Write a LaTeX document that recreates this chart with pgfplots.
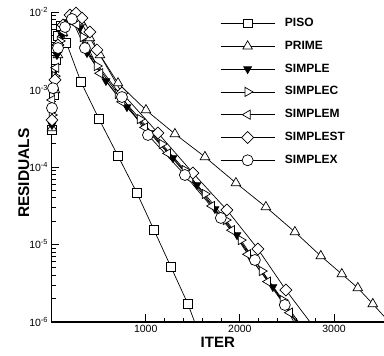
\documentclass[border=0pt]{standalone}
\usepackage{pgfplots}
\pgfplotsset{compat=1.18}
\usepackage{fontspec}
\setmainfont{Liberation Sans}
\begin{document}
\begin{tikzpicture}
\path[use as bounding box] (0,0) rectangle (384pt,356pt);
\begin{axis}[
  at={(51.5pt,34pt)}, anchor=south west,
  scale only axis, width=332.5pt, height=310pt,
  xmin=0, xmax=3530, ymin=1e-6, ymax=1e-2, ymode=log,
  axis lines=left, axis line style={-, line width=1.2pt},
  tick align=inside, major tick length=8pt, minor tick length=4.5pt,
  every tick/.style={black, line width=0.9pt},
  xtick={1000,2000,3000}, xticklabels={1000,2000,3000}, minor x tick num=4,
  ytick={1e-6,1e-5,1e-4,1e-3,1e-2},
  yticklabels={10\textsuperscript{-6},10\textsuperscript{-5},10\textsuperscript{-4},10\textsuperscript{-3},10\textsuperscript{-2}},
  ticklabel style={font=\fontsize{10.5}{12}\selectfont},
  xlabel={ITER}, ylabel={RESIDUALS},
  xlabel style={font=\bfseries\fontsize{15}{16}\selectfont, at={(axis description cs:0.5,-0.065)}, anchor=center},
  ylabel style={font=\bfseries\fontsize{15.5}{16}\selectfont, at={(axis description cs:-0.083,0.48)}, anchor=center},
  every axis plot/.append style={black, line width=0.7pt},
  legend style={draw=none, fill=none, at={(0.507,0.983)}, anchor=north west, inner sep=0pt,
    row sep=10.8pt, column sep=10pt, font=\bfseries\fontsize{12}{12}\selectfont,
    nodes={inner sep=0pt, text height=9pt, text depth=3pt}},
  legend cell align=left,
  legend image code/.code={\draw[mark repeat=2, mark phase=2] plot coordinates {(0pt,0pt) (27pt,0pt) (54pt,0pt)};},
]
% PISO
\addplot[mark=square*, mark size=4.3pt, mark options={fill=white, solid}] coordinates {
(5,3.0e-4) (27,8.49e-4) (48,2.40e-3) (69,4.90e-3) (101,6.59e-3) (159,3.98e-3)
(313,1.25e-3) (504,4.16e-4) (706,1.39e-4) (907,4.62e-5) (1088,1.54e-5)
(1268,5.13e-6) (1448,1.71e-6) (1550,8e-7)};
\addlegendentry{PISO}
% PRIME
\addplot[mark=triangle*, mark size=5.5pt, mark options={fill=white, solid}] coordinates {
(5,3.18e-4) (37,9.86e-4) (69,2.79e-3) (122,5.36e-3) (186,7.88e-3) (249,8.62e-3)
(313,7.43e-3) (408,4.62e-3) (515,2.79e-3) (706,1.21e-3) (1003,5.43e-4)
(1310,2.67e-4) (1629,1.35e-4) (1958,6.22e-5) (2276,3.05e-5) (2584,1.45e-5)
(2859,7.11e-6) (3082,4.16e-6) (3252,2.75e-6) (3411,1.71e-6) (3620,9e-7)};
\addlegendentry{PRIME}
% SIMPLE
\addplot[mark=triangle*, mark size=4.5pt, mark options={rotate=180, fill=black, solid}] coordinates {
(5,3.48e-4) (27,9.85e-4) (58,2.79e-3) (111,5.05e-3) (175,7.43e-3) (228,8.37e-3)
(302,6.22e-3) (377,2.96e-3) (578,1.29e-3) (801,5.94e-4) (1056,2.75e-4)
(1289,1.31e-4) (1544,5.86e-5) (1735,2.87e-5) (1968,1.33e-5) (2127,6.31e-6)
(2350,2.83e-6) (2660,8e-7)};
\addlegendentry{SIMPLE}
% SIMPLEC
\addplot[mark=triangle*, mark size=5.3pt, mark options={rotate=-90, fill=white, solid}] coordinates {
(5,4.69e-4) (37,1.49e-3) (90,4.23e-3) (154,7.0e-3) (239,8.62e-3) (334,4.75e-3)
(483,2.01e-3) (706,8.75e-4) (939,4.16e-4) (1172,1.98e-4) (1416,9.14e-5)
(1629,4.49e-5) (1851,2.07e-5) (2011,1.14e-5) (2234,4.55e-6) (2456,1.92e-6)
(2680,8e-7)};
\addlegendentry{SIMPLEC}
% SIMPLEM
\addplot[mark=triangle*, mark size=5.3pt, mark options={rotate=90, fill=white, solid}] coordinates {
(5,7.33e-4) (48,1.91e-3) (80,3.43e-3) (133,5.57e-3) (207,7.74e-3) (271,6.86e-3)
(356,3.55e-3) (515,1.62e-3) (748,6.93e-4) (992,3.24e-4) (1236,1.50e-4)
(1470,7.19e-5) (1703,3.14e-5) (1915,1.53e-5) (2085,7.48e-6) (2297,3.32e-6)
(2530,1.32e-6) (2650,8e-7)};
\addlegendentry{SIMPLEM}
% SIMPLEST
\addplot[mark=square*, mark size=4.2pt, mark options={rotate=45, fill=white, solid}] coordinates {
(5,4.04e-4) (37,1.33e-3) (69,3.75e-3) (122,6.79e-3) (196,9.15e-3) (260,9.71e-3)
(324,8.37e-3) (408,5.52e-3) (483,3.24e-3) (748,9.02e-4) (1130,2.75e-4)
(1501,8.37e-5) (1862,2.79e-5) (2191,8.75e-6) (2488,2.59e-6) (2805,8e-7)};
\addlegendentry{SIMPLEST}
% SIMPLEX
\addplot[mark=*, mark size=5.5pt, mark options={fill=white, solid}] coordinates {
(5,5.77e-4) (16,1.04e-3) (69,3.43e-3) (143,6.40e-3) (217,8.13e-3) (355,3.43e-3)
(748,8.0e-4) (1024,2.59e-4) (1416,7.89e-5) (1798,2.20e-5) (2159,6.31e-6)
(2477,1.66e-6) (2615,8e-7)};
\addlegendentry{SIMPLEX}
\end{axis}
\end{tikzpicture}
\end{document}
